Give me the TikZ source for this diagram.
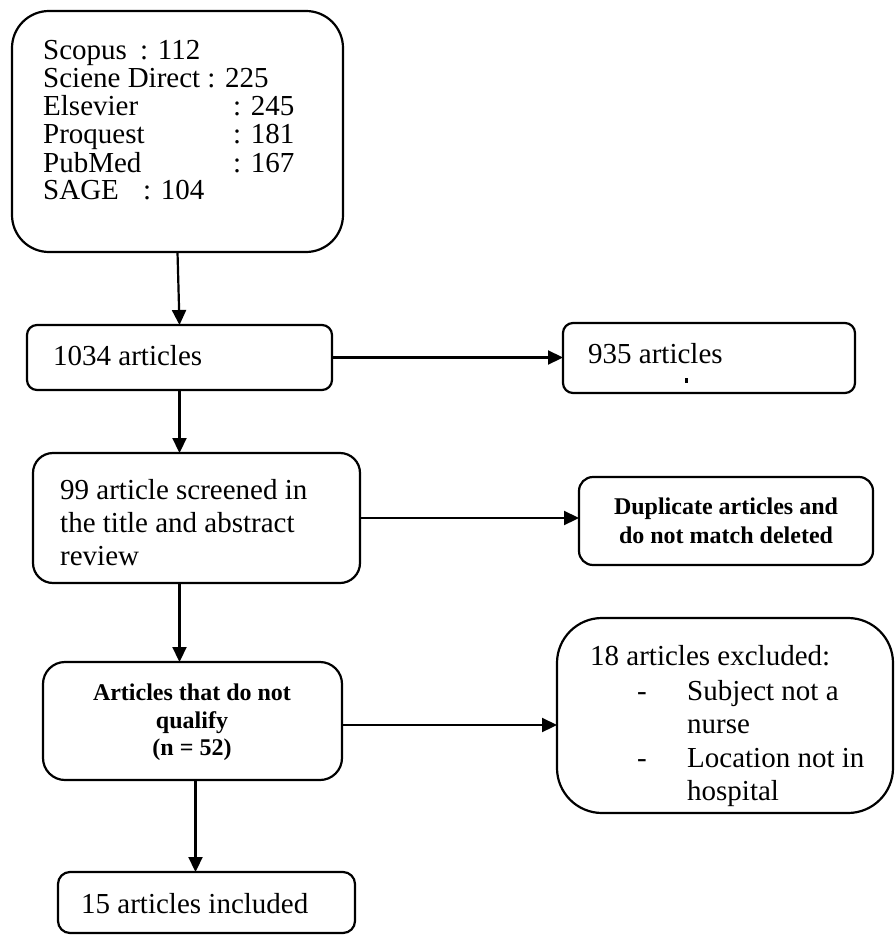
\documentclass[tikz,border=0pt]{standalone}
\usepackage{fontspec}
\setmainfont{Liberation Serif}
\usetikzlibrary{arrows.meta}
\begin{document}
\begin{tikzpicture}[x=1pt,y=-1pt,
  box/.style={draw, line width=2.2pt, anchor=north west, inner sep=0pt, outer sep=0pt},
  flow/.style={line width=2.2pt, -{Triangle[length=15pt,width=14pt]}},
  txt/.style={anchor=base west, inner sep=0pt, font=\fontsize{29}{33}\selectfont},
  btxt/.style={anchor=base, inner sep=0pt, font=\fontsize{24}{28}\selectfont\bfseries},
]
\useasboundingbox (0,0) rectangle (895,936);
\fill[white] (0,0) rectangle (895,936);

% boxes
\node[box, rounded corners=37pt, minimum width=331pt, minimum height=241pt] (src) at (12,11) {};
\node[box, rounded corners=10pt, minimum width=305pt, minimum height=65pt] (all) at (27,325) {};
\node[box, rounded corners=10pt, minimum width=292pt, minimum height=70pt] (rem) at (563,323) {};
\node[box, rounded corners=20pt, minimum width=327pt, minimum height=130pt] (scr) at (33,453) {};
\node[box, rounded corners=14pt, minimum width=294pt, minimum height=88pt] (dup) at (579,477) {};
\node[box, rounded corners=22pt, minimum width=299pt, minimum height=118pt] (nq) at (43,662) {};
\node[box, rounded corners=45pt, minimum width=336pt, minimum height=195pt] (exc) at (557,618) {};
\node[box, rounded corners=12pt, minimum width=297pt, minimum height=61pt] (inc) at (58,872) {};

% database counts
\node[txt] (t1) at (43,60)  {\makebox[97pt][l]{Scopus}: 112};
\node[txt] (t2) at (43,88)  {Sciene Direct : 225};
\node[txt] (t3) at (43,116) {\makebox[190pt][l]{Elsevier}: 245};
\node[txt] (t4) at (43,144) {\makebox[190pt][l]{Proquest}: 181};
\node[txt] (t5) at (43,172) {\makebox[190pt][l]{PubMed}: 167};
\node[txt] (t6) at (43,200) {\makebox[100pt][l]{SAGE}: 104};

\node[txt] (t7) at (53,365) {1034 articles};
\node[txt] (t8) at (588,363) {935 articles};
\fill (685,378) rectangle (688,383);

\node[txt] (t9)  at (60,499) {99 article screened in};
\node[txt] (t10) at (60,532) {the title and abstract};
\node[txt] (t11) at (60,565) {review};

\node[btxt] (t12) at (726,514) {Duplicate articles and};
\node[btxt] (t13) at (726,543) {do not match deleted};

\node[btxt] (t14) at (192,700) {Articles that do not};
\node[btxt] (t15) at (192,728) {qualify};
\node[btxt] (t16) at (192,755) {(n = 52)};

\node[txt] (t17) at (590,665) {18 articles excluded:};
\node[txt] (t18) at (637,700) {-};
\node[txt] (t19) at (687,700) {Subject not a};
\node[txt] (t20) at (687,733) {nurse};
\node[txt] (t21) at (637,767) {-};
\node[txt] (t22) at (687,767) {Location not in};
\node[txt] (t23) at (687,800) {hospital};

\node[txt] (t24) at (81,913) {15 articles included};

% connectors
\draw[flow] (src.south) -- (all.north);
\draw[flow] (all.east) -- (all.east -| rem.west);
\draw[flow] (all.south) -- (all.south |- scr.north);
\draw[flow] (scr.east) -- (scr.east -| dup.west);
\draw[flow] (all.south |- scr.south) -- (all.south |- nq.north);
\draw[flow] ([yshift=-4pt]nq.east) -- ([yshift=-4pt]nq.east -| exc.west);
\draw[flow] ([xshift=3pt]nq.south) -- ([xshift=3pt]nq.south |- inc.north);
\end{tikzpicture}
\end{document}
